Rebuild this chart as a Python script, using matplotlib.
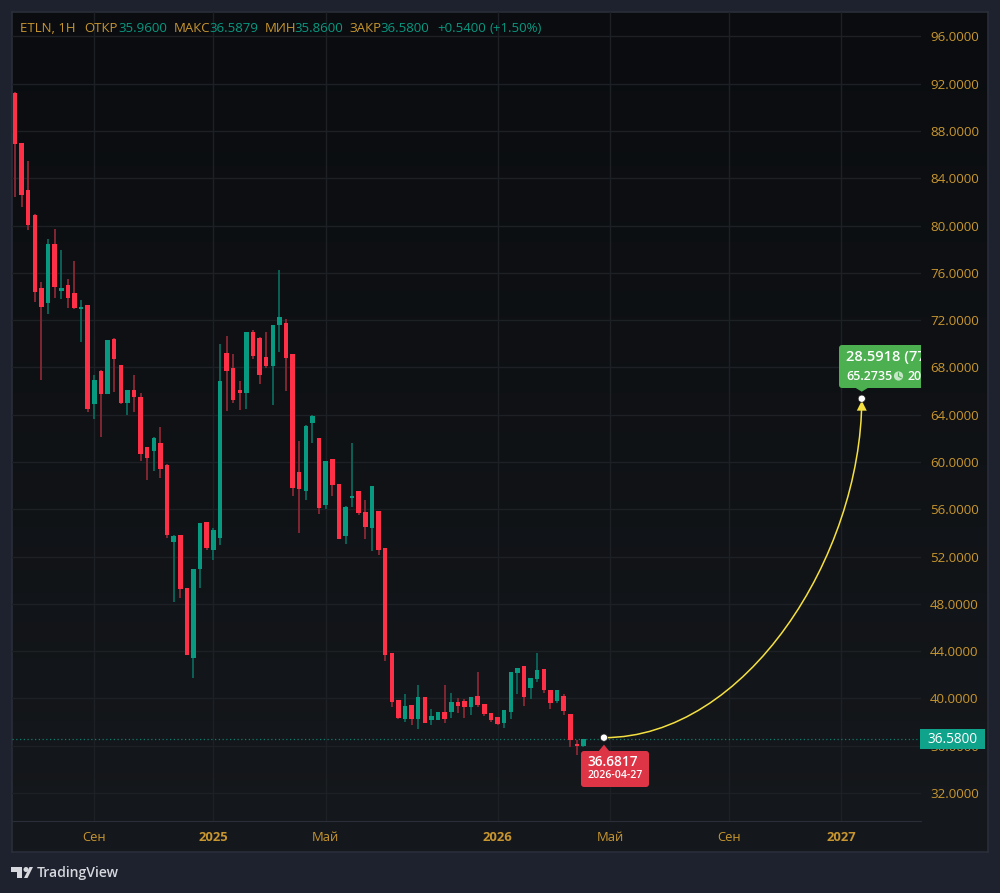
import numpy as np
import matplotlib
matplotlib.use('Agg')
import matplotlib.pyplot as plt
from matplotlib.patches import FancyBboxPatch, Polygon, Rectangle, Circle, PathPatch
from matplotlib.path import Path

plt.rcParams['font.family'] = ['Open Sans', 'DejaVu Sans']

# weekly candles
opens = [91.25, 86.96, 83.01, 80.90, 74.70, 73.43, 78.45, 74.49, 74.95, 74.27, 72.97, 73.26,
         64.91, 67.73, 65.76, 70.41, 68.18, 64.99, 66.09, 65.48, 61.27, 60.93, 61.58, 59.75,
         53.26, 53.80, 49.32, 43.42, 50.95, 54.90, 52.56, 53.57, 69.20, 67.96, 66.07, 65.84,
         70.97, 70.47, 68.89, 68.12, 71.57, 71.76, 69.14, 59.16, 57.57, 63.28, 62.01, 56.36,
         60.23, 58.12, 53.74, 56.96, 57.52, 55.77, 54.44, 55.83, 52.70, 43.82, 39.84, 38.26,
         39.47, 38.26, 40.12, 38.15, 38.18, 38.85, 38.83, 39.70, 39.78, 39.28, 40.21, 39.53,
         38.77, 38.40, 37.92, 38.88, 42.18, 42.72, 40.86, 41.67, 42.49, 40.71, 39.78, 40.21,
         38.68, 36.15, 35.96]
highs = [91.30, 86.96, 85.44, 80.98, 75.23, 78.89, 79.71, 77.94, 75.46, 76.98, 73.71, 73.30,
         67.36, 67.79, 70.32, 70.45, 68.20, 66.10, 67.36, 65.84, 61.30, 62.09, 62.96, 59.81,
         53.80, 53.80, 49.32, 50.95, 54.82, 54.90, 54.39, 69.99, 70.66, 69.14, 66.86, 70.97,
         71.17, 70.60, 70.97, 71.62, 76.25, 72.13, 69.14, 61.78, 63.10, 63.98, 62.01, 60.09,
         60.23, 58.12, 56.25, 61.58, 57.52, 56.79, 57.95, 55.83, 52.70, 43.82, 39.84, 40.38,
         39.47, 41.11, 40.12, 39.11, 38.85, 41.11, 40.46, 40.01, 39.95, 40.12, 42.26, 39.53,
         38.77, 38.40, 39.05, 42.21, 42.58, 42.72, 41.75, 43.87, 42.49, 40.71, 40.71, 40.38,
         38.68, 36.48, 36.5879]
lows = [82.45, 81.60, 79.63, 73.56, 66.94, 72.52, 73.90, 73.79, 73.03, 72.95, 70.18, 64.23,
        63.64, 62.14, 65.76, 65.95, 64.88, 63.98, 64.23, 60.11, 58.48, 59.24, 58.65, 53.57,
        48.16, 48.50, 43.67, 41.73, 49.32, 52.58, 51.71, 52.98, 64.32, 64.97, 64.40, 64.49,
        68.72, 66.58, 67.96, 64.82, 69.31, 65.98, 57.13, 54.02, 56.79, 61.58, 55.60, 56.00,
        57.15, 53.46, 53.07, 56.22, 55.52, 53.49, 52.47, 52.11, 43.17, 39.28, 38.26, 38.01,
        37.75, 37.41, 37.92, 37.75, 38.18, 37.92, 38.35, 38.77, 38.35, 38.60, 39.28, 38.51,
        38.01, 37.78, 37.50, 38.24, 40.38, 39.39, 39.95, 41.42, 40.49, 39.11, 39.61, 38.60,
        35.89, 35.21, 35.86]
closes = [86.91, 82.59, 80.05, 74.41, 73.12, 78.45, 74.78, 74.70, 73.90, 73.03, 73.12, 64.49,
          66.94, 65.76, 70.32, 68.72, 64.99, 66.07, 65.53, 60.68, 60.32, 62.03, 59.44, 53.80,
          53.74, 49.23, 43.67, 50.95, 54.82, 52.75, 54.25, 66.86, 67.70, 65.25, 65.84, 70.97,
          68.97, 67.36, 68.12, 71.62, 72.27, 68.78, 57.78, 57.69, 63.05, 63.92, 56.09, 60.09,
          58.06, 53.46, 56.20, 57.15, 55.69, 54.53, 57.95, 52.56, 43.67, 39.70, 38.35, 39.39,
          38.26, 40.12, 37.92, 38.51, 38.83, 38.26, 39.70, 39.39, 39.30, 40.12, 39.44, 38.68,
          38.15, 37.84, 39.05, 42.21, 42.58, 40.10, 41.75, 42.41, 40.71, 39.61, 40.71, 38.94,
          36.48, 35.98, 36.58]

price_ticks = [96, 92, 88, 84, 80, 76, 72, 68, 64, 60, 56, 52, 48, 44, 40, 36, 32]
time_ticks = [12, 30, 47, 73, 90, 108, 125]
time_labels = ['Сен', '2025', 'Май', '2026', 'Май', 'Сен', '2027']
year_labels = ['2025', '2026', '2027']

last_price = 36.58
# forecast curve: start, two control points, end (bar index, price)
curve_x = [89.1, 110.6, 128.0, 128.1]
curve_y = [36.6817, 36.6817, 52.05, 65.2735]

UP = '#089981'
DOWN = '#fe3048'
UP_WICK = '#0b6155'
DOWN_WICK = '#822633'
GOLD = '#c8962f'
OUTER = '#1e222e'
GRID = '#1d2025'

opens = np.array(opens)
closes = np.array(closes)
highs = np.array(highs)
lows = np.array(lows)
idx = np.arange(len(opens))
is_up = closes >= opens

fig = plt.figure(figsize=(10, 8.93), dpi=100, facecolor=OUTER)


def fig_rect(left, top, right, bottom):
    return [left / 1000, 1 - bottom / 893, (right - left) / 1000, (bottom - top) / 893]


# dark panel with a slight top to bottom gradient
bg = fig.add_axes(fig_rect(12, 12, 988, 852), zorder=0)
grad = np.linspace(0, 1, 256)[:, None, None]
top_col = np.array([10, 12, 15]) / 255
bot_col = np.array([21, 24, 28]) / 255
bg.imshow(top_col + (bot_col - top_col) * grad, aspect='auto')
bg.set_xticks([])
bg.set_yticks([])
for s in bg.spines.values():
    s.set_color('#2a2e39')
    s.set_linewidth(1.2)

ax = fig.add_axes(fig_rect(12, 12, 921, 821), zorder=1)
ax.patch.set_alpha(0)
ax.set_xlim(-0.454, 137.06)
ax.set_ylim(29.63, 98.07)
ax.grid(True, color=GRID, lw=1.0)
ax.set_axisbelow(True)

ax.axhline(last_price, color=UP, lw=0.9, ls=(0, (1, 2)), alpha=0.8, zorder=1)

ax.vlines(idx[is_up], lows[is_up], highs[is_up], color=UP_WICK, lw=1.4, zorder=2)
ax.vlines(idx[~is_up], lows[~is_up], highs[~is_up], color=DOWN_WICK, lw=1.4, zorder=2)
body_h = np.abs(closes - opens)
body_b = np.minimum(opens, closes)
ax.bar(idx, np.maximum(body_h, 0.15), bottom=body_b, width=0.68,
       color=[UP if u else DOWN for u in is_up], lw=0, zorder=3)

verts = list(zip(curve_x, curve_y))
curve = Path(verts, [Path.MOVETO, Path.CURVE4, Path.CURVE4, Path.CURVE4])
ax.add_patch(PathPatch(curve, fc='none', ec='#f5e042', lw=1.1, zorder=4))

ax.yaxis.tick_right()
ax.set_yticks(price_ticks)
ax.set_yticklabels(['%.4f' % p for p in price_ticks])
ax.set_xticks(time_ticks)
ax.set_xticklabels(time_labels)
ax.tick_params(axis='y', length=0, pad=6.5, labelsize=9.6, labelcolor=GOLD)
ax.tick_params(axis='x', length=0, pad=7, labelsize=9.4, labelcolor=GOLD)
for lab in ax.get_xticklabels():
    if lab.get_text() in year_labels:
        lab.set_fontweight('bold')
for s in ax.spines.values():
    s.set_visible(False)
ax.spines['bottom'].set_visible(True)
ax.spines['bottom'].set_color('#2a2e39')

# overlay in picture pixels for labels and chrome
ov = fig.add_axes([0, 0, 1, 1], zorder=2)
ov.set_xlim(0, 1000)
ov.set_ylim(893, 0)
ov.axis('off')
ov.patch.set_alpha(0)


def to_px(x, y):
    px = ax.transData.transform((x, y))
    return px[0], 893 - px[1]


# header line
header = [(20, 'ETLN, 1H', GOLD), (84, 'ОТКР', GOLD), (118, '35.9600', UP),
          (174, 'МАКС', GOLD), (209, '36.5879', UP), (265, 'МИН', GOLD),
          (294, '35.8600', UP), (349, 'ЗАКР', GOLD), (380, '36.5800', UP),
          (437.5, '+0.5400', UP), (490, '(+1.50%)', UP)]
for hx, txt, col in header:
    ov.text(hx, 29, txt, color=col, fontsize=9.5, ha='left', va='center')

# last price badge, the 36.0000 scale label sits partly under it as in the source
_, last_y = to_px(0, last_price)
ov.add_patch(Rectangle((920, last_y - 9.5), 65, 20, fc='#10a38b', ec='none', zorder=3))
ov.text(953, last_y + 0.5, '%.4f' % last_price, color='white', fontsize=9.8,
        ha='center', va='center', zorder=4)

# start of the forecast
sx, sy = to_px(curve_x[0], curve_y[0])
ov.add_patch(FancyBboxPatch((583, 753), 64, 32, boxstyle='round,pad=2,rounding_size=3',
                            fc='#dd3446', ec='none', zorder=3))
ov.add_patch(Polygon([(sx - 6, 752), (sx, sy + 7), (sx + 6, 752)], fc='#dd3446', ec='none', zorder=3))
ov.text(587, 761.5, '36.6817', color='white', fontsize=9.8, fontweight='semibold', ha='left',
        va='center', zorder=4)
ov.text(587, 776, '2026-04-27', color='white', fontsize=7.6, fontweight='semibold', ha='left',
        va='center', zorder=4)
ov.add_patch(Circle((sx, sy), 3.6, fc='white', ec='#222222', lw=0.5, zorder=5))

# end of the forecast, label runs under the price scale
ex, ey = to_px(curve_x[-1], curve_y[-1])
clip = Rectangle((830, 335), 91, 65, transform=ov.transData)
box = FancyBboxPatch((841, 347), 110, 39, boxstyle='round,pad=2,rounding_size=3',
                     fc='#4caf50', ec='none', zorder=3)
ov.add_patch(box)
box.set_clip_path(clip)
ov.add_patch(Polygon([(ex - 6, 388), (ex, ey - 8), (ex + 6, 388)], fc='#4caf50', ec='none', zorder=3))
t1 = ov.text(846, 357, '28.5918 (77.95%)', color='white', fontsize=10.6, fontweight='semibold',
             ha='left', va='center', zorder=4, clip_on=True)
t2 = ov.text(846, 376, '65.2735', color='white', fontsize=9.0, fontweight='semibold',
             ha='left', va='center', zorder=4)
t3 = ov.text(908, 376, '2027-02-15', color='white', fontsize=9.0, fontweight='semibold',
             ha='left', va='center', zorder=4, clip_on=True)
t1.set_clip_path(clip)
t3.set_clip_path(clip)
ov.add_patch(Circle((898.5, 376), 4.6, fc='#c4e5c6', ec='none', zorder=4))
ov.plot([898.5, 898.5, 901], [373, 376.3, 377.6], color='#4caf50', lw=0.8, zorder=5)
ov.add_patch(Polygon([(ex, ey + 1), (ex - 5, ey + 11), (ex + 5, ey + 11)], fc='#f5e042', ec='none', zorder=5))
ov.add_patch(Circle((ex, ey - 1), 3.6, fc='white', ec='#222222', lw=0.5, zorder=6))

# TradingView logo
logo = '#d6d8de'
ov.add_patch(Polygon([(11, 867), (22, 867), (22, 878), (17, 878), (17, 872), (11, 872)], fc=logo, ec='none'))
ov.add_patch(Circle((26, 869.5), 2.5, fc=logo, ec='none'))
ov.add_patch(Polygon([(27.5, 878), (33, 867), (29.5, 867), (24, 878)], fc=logo, ec='none'))
ov.text(37, 873, 'TradingView', color=logo, fontsize=10.1, fontweight='semibold', ha='left', va='center')

fig.savefig('out.png', dpi=100, facecolor=OUTER)
